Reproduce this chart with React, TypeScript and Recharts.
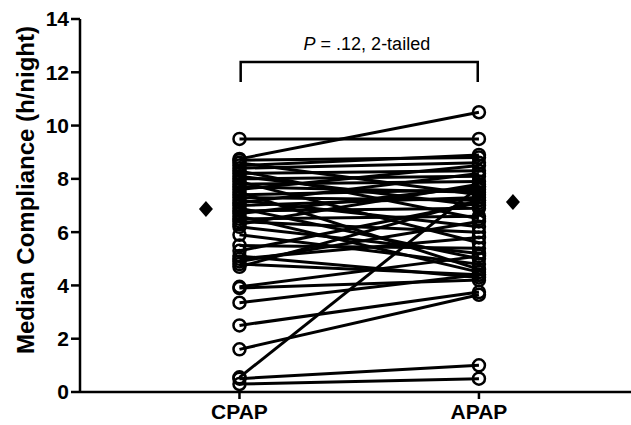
import React from "react";
import { ScatterChart, Scatter, XAxis, YAxis, Label } from "recharts";

// paired compliance values (h/night), one entry per patient
const cpapValues = [
  9.5, 8.75, 8.7, 8.6, 8.5, 8.4, 8.3, 8.2, 8.1, 8.0, 7.9, 7.8, 7.7, 7.6, 7.5,
  7.4, 7.3, 7.2, 7.1, 7.0, 6.9, 6.8, 6.7, 6.6, 6.5, 6.4, 6.3, 6.2, 5.9, 5.5,
  5.3, 5.1, 5.0, 4.9, 4.8, 4.7, 3.95, 3.9, 3.35, 2.5, 1.6, 0.55, 0.5, 0.3,
];
const apapValues = [
  9.5, 10.5, 8.8, 7.4, 8.9, 8.6, 6.5, 8.3, 7.0, 8.1, 5.6, 7.9, 7.5, 8.5, 4.6,
  7.6, 7.2, 6.2, 8.2, 7.3, 5.0, 6.9, 7.7, 4.5, 6.6, 6.0, 7.8, 5.2, 4.8, 5.4,
  7.1, 4.3, 5.8, 6.4, 4.4, 7.2, 5.1, 4.2, 4.4, 3.75, 3.65, 7.7, 1.0, 0.5,
];
const categories = ["CPAP", "APAP"];
const medianValues = [6.87, 7.13];
const yTicks = [0, 2, 4, 6, 8, 10, 12, 14];
const pValueText = ".12, 2-tailed";

const pairs = cpapValues.map((c, i) => [
  { x: 1, y: c },
  { x: 2, y: apapValues[i] },
]);

const medianPoints = [
  { x: 0.86, y: medianValues[0] },
  { x: 2.142, y: medianValues[1] },
];

const bracket = [
  { x: 1.005, y: 11.64 },
  { x: 1.005, y: 12.39 },
  { x: 1.995, y: 12.39 },
  { x: 1.995, y: 11.64 },
];

const OpenCircle = (props: any) => (
  <circle cx={props.cx} cy={props.cy} r={6} fill="none" stroke="#000" strokeWidth={2.5} />
);

const Diamond = (props: any) => {
  const { cx, cy } = props;
  return (
    <polygon
      points={`${cx},${cy - 8} ${cx + 7},${cy} ${cx},${cy + 8} ${cx - 7},${cy}`}
      fill="#000"
    />
  );
};

const NoShape = () => <g />;

const PText = (props: any) => (
  <text x={props.cx} y={props.cy} textAnchor="middle" fontSize={18} fill="#000">
    <tspan fontStyle="italic">P</tspan>
    <tspan> = {pValueText}</tspan>
  </text>
);

const XTick = (props: any) => {
  const { x, y, payload } = props;
  return (
    <text x={x} y={y + 18} textAnchor="middle" fontSize={21} fontWeight="bold" fill="#000">
      {categories[payload.value - 1]}
    </text>
  );
};

const YLabel = () => (
  <text
    x={25}
    y={190}
    transform="rotate(-90, 25, 190)"
    textAnchor="middle"
    dominantBaseline="central"
    fontSize={24}
    fontWeight="bold"
    fill="#000"
  >
    Median Compliance (h/night)
  </text>
);

export default function App() {
  return (
    <div style={{ position: "absolute", left: 0, top: 0, background: "#fff" }}>
      <ScatterChart
        width={631}
        height={425}
        margin={{ top: 19, right: 0, bottom: 0, left: 0 }}
        style={{ fontFamily: "'Liberation Sans', Arial, sans-serif" }}
      >
        <XAxis
          type="number"
          dataKey="x"
          domain={[0.334, 2.635]}
          ticks={[1, 2]}
          allowDataOverflow
          height={33}
          tickSize={7}
          axisLine={{ stroke: "#000", strokeWidth: 2.5 }}
          tickLine={{ stroke: "#000", strokeWidth: 2.5 }}
          tick={<XTick />}
        />
        <YAxis
          type="number"
          dataKey="y"
          domain={[0, 14]}
          ticks={yTicks}
          width={80}
          tickSize={9}
          tickMargin={2}
          axisLine={{ stroke: "#000", strokeWidth: 2.5 }}
          tickLine={{ stroke: "#000", strokeWidth: 2.5 }}
          tick={{ fontSize: 21, fontWeight: "bold", fill: "#000" }}
        >
          <Label content={<YLabel />} />
        </YAxis>
        {pairs.map((d, i) => (
          <Scatter
            key={i}
            data={d}
            line={{ stroke: "#000", strokeWidth: 3 }}
            shape={<OpenCircle />}
            isAnimationActive={false}
          />
        ))}
        <Scatter data={medianPoints} shape={<Diamond />} isAnimationActive={false} />
        <Scatter
          data={bracket}
          line={{ stroke: "#000", strokeWidth: 2.5 }}
          shape={<NoShape />}
          isAnimationActive={false}
        />
        <Scatter
          data={[{ x: 1.532, y: 12.84 }]}
          shape={<PText />}
          isAnimationActive={false}
        />
      </ScatterChart>
    </div>
  );
}
